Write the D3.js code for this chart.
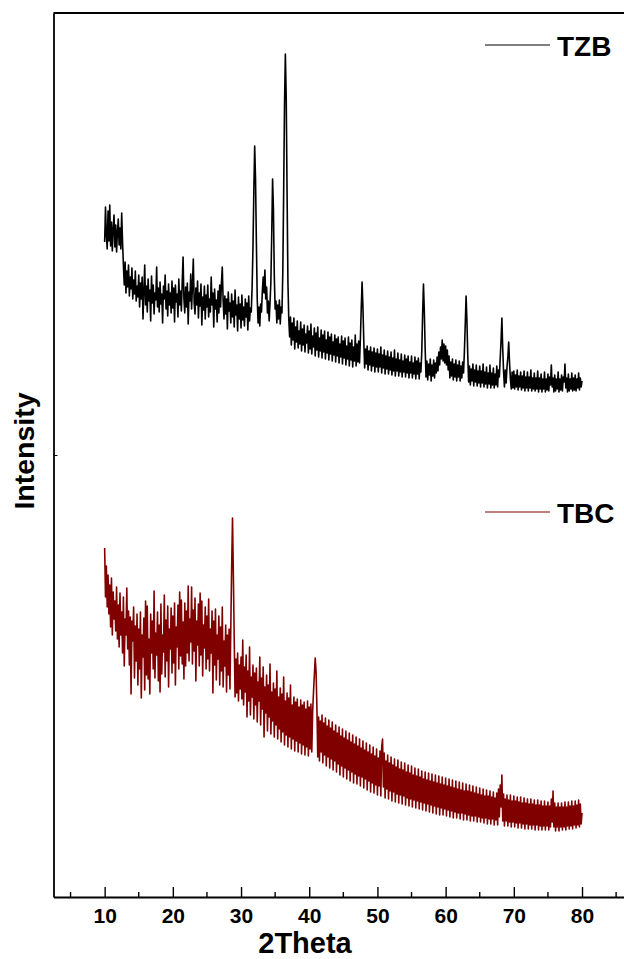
<!DOCTYPE html>
<html>
<head>
<meta charset="utf-8">
<script src="https://cdn.jsdelivr.net/npm/d3@7"></script>
<style>
  body { margin: 0; background: #fff; }
  text { font-family: "Liberation Sans", Arial, sans-serif; font-weight: bold; }
</style>
</head>
<body>
<svg id="chart" width="624" height="959"></svg>
<script>

// 2Theta grid of the scans : 10 -> 80, one value every 0.125 deg
const thetaStart = 10
const thetaStep = 0.125

// TZB scan (upper curve), intensity a.u. - 20 values per line = 2.5 deg
const tzb = [
  655, 690, 662, 648, 686, 656, 692, 651, 675, 646, 668, 682, 650, 672, 645, 665, 678, 652, 669, 648,
  684, 655, 632, 612, 635, 604, 626, 610, 632, 601, 620, 608, 629, 598, 617, 603, 626, 596, 611, 600,
  622, 590, 614, 598, 620, 578, 606, 632, 592, 611, 585, 618, 596, 607, 576, 621, 594, 612, 583, 604,
  597, 630, 590, 609, 585, 615, 593, 603, 574, 611, 598, 622, 588, 606, 581, 613, 592, 604, 584, 616,
  589, 609, 575, 612, 595, 603, 580, 618, 592, 606, 586, 615, 640, 598, 584, 610, 590, 614, 573, 605,
  596, 623, 588, 612, 638, 594, 583, 609, 592, 616, 579, 604, 591, 613, 572, 600, 587, 611, 578, 602,
  590, 612, 580, 598, 585, 620, 592, 604, 570, 608, 588, 597, 575, 606, 584, 612, 590, 614, 630, 596,
  578, 601, 583, 598, 568, 605, 586, 594, 574, 603, 580, 596, 570, 607, 582, 592, 566, 600, 578, 593,
  569, 602, 577, 590, 571, 598, 580, 594, 567, 601, 576, 589, 585, 610, 650, 705, 751, 718, 655, 598,
  574, 590, 571, 593, 585, 606, 620, 604, 627, 598, 610, 584, 596, 576, 594, 615, 662, 718, 688, 622,
  588, 596, 574, 592, 578, 597, 573, 590, 584, 625, 705, 792, 843, 800, 705, 615, 578, 560, 580, 552,
  574, 557, 579, 548, 570, 555, 576, 549, 566, 553, 575, 546, 568, 552, 572, 545, 563, 554, 571, 544,
  566, 548, 573, 543, 561, 550, 569, 541, 564, 547, 570, 540, 559, 546, 567, 539, 562, 545, 566, 538,
  557, 544, 565, 537, 560, 543, 563, 536, 555, 542, 562, 535, 558, 541, 560, 534, 553, 540, 561, 533,
  556, 539, 559, 532, 551, 538, 560, 531, 554, 537, 557, 530, 550, 536, 562, 531, 553, 535, 556, 534,
  558, 588, 615, 590, 556, 529, 548, 533, 551, 527, 546, 532, 550, 526, 545, 531, 549, 525, 544, 530,
  548, 525, 543, 530, 550, 524, 542, 529, 547, 523, 541, 528, 546, 523, 540, 527, 545, 522, 539, 526,
  547, 521, 538, 526, 544, 521, 537, 525, 543, 520, 536, 525, 542, 520, 538, 524, 541, 519, 535, 524,
  541, 519, 534, 523, 540, 518, 536, 523, 539, 518, 534, 525, 545, 582, 613, 586, 548, 520, 536, 517,
  533, 522, 538, 516, 532, 521, 537, 519, 534, 524, 540, 526, 545, 532, 550, 538, 557, 536, 553, 534,
  551, 532, 547, 527, 541, 519, 535, 521, 538, 517, 533, 520, 537, 516, 532, 520, 536, 516, 531, 519,
  535, 524, 545, 572, 601, 576, 541, 515, 531, 512, 528, 516, 533, 511, 527, 515, 532, 511, 526, 514,
  531, 510, 526, 514, 533, 510, 525, 513, 530, 509, 524, 513, 532, 509, 524, 512, 529, 509, 523, 512,
  531, 510, 527, 520, 538, 556, 579, 548, 525, 510, 527, 514, 530, 540, 555, 534, 518, 508, 525, 509,
  526, 508, 522, 510, 527, 507, 521, 510, 525, 507, 521, 509, 526, 506, 520, 509, 525, 506, 520, 509,
  527, 506, 519, 508, 524, 506, 519, 508, 526, 505, 519, 508, 523, 505, 518, 508, 525, 505, 518, 507,
  523, 506, 520, 512, 532, 510, 519, 505, 522, 506, 518, 508, 525, 505, 518, 507, 522, 506, 520, 515,
  533, 509, 519, 505, 523, 506, 518, 508, 524, 506, 519, 507, 522, 506, 518, 509, 524, 507, 519, 510,
  516
]

// TBC scan (lower curve), intensity a.u. - 20 values per line = 2.5 deg
const tbc = [
  349, 300, 331, 290, 322, 283, 312, 270, 319, 262, 305, 278, 296, 266, 310, 258, 292, 250, 304, 262,
  285, 244, 300, 231, 278, 262, 309, 248, 286, 232, 280, 203, 276, 256, 290, 219, 271, 236, 283, 212,
  268, 228, 285, 199, 262, 240, 279, 207, 296, 222, 291, 218, 258, 203, 283, 244, 276, 228, 306, 219,
  264, 242, 285, 216, 272, 205, 293, 223, 262, 245, 302, 220, 277, 236, 291, 210, 268, 248, 289, 224,
  281, 234, 294, 212, 270, 250, 292, 228, 305, 241, 297, 233, 275, 218, 294, 231, 286, 244, 311, 236,
  278, 255, 310, 233, 287, 246, 299, 216, 276, 252, 293, 231, 304, 242, 296, 221, 272, 249, 290, 228,
  281, 238, 298, 226, 268, 244, 286, 204, 276, 232, 288, 217, 262, 238, 281, 212, 270, 226, 290, 210,
  256, 231, 272, 205, 262, 222, 268, 208, 270, 330, 379, 322, 258, 200, 238, 204, 244, 196, 232, 208,
  240, 198, 257, 192, 230, 205, 242, 180, 226, 196, 250, 182, 220, 200, 232, 178, 224, 192, 229, 175,
  215, 196, 240, 172, 219, 188, 230, 160, 210, 184, 222, 166, 212, 180, 233, 163, 205, 176, 214, 160,
  208, 172, 226, 158, 200, 168, 209, 155, 203, 165, 220, 152, 196, 162, 204, 150, 199, 160, 212, 148,
  192, 158, 200, 146, 195, 156, 198, 145, 190, 154, 197, 143, 192, 152, 195, 142, 188, 150, 196, 141,
  190, 148, 193, 145, 185, 205, 222, 239, 226, 190, 140, 180, 136, 176, 145, 182, 134, 174, 142, 179,
  131, 171, 140, 177, 129, 169, 138, 175, 127, 166, 136, 172, 125, 164, 133, 170, 122, 161, 131, 168,
  120, 159, 129, 166, 118, 157, 127, 164, 116, 155, 125, 162, 114, 153, 123, 160, 113, 151, 121, 158,
  111, 149, 120, 156, 109, 147, 118, 154, 107, 145, 116, 152, 105, 143, 114, 150, 104, 141, 112, 148,
  102, 139, 111, 146, 101, 150, 158, 110, 144,  99, 136, 108, 142,  98, 134, 106, 140,  96, 132, 105,
  138,  95, 130, 103, 137,  94, 128, 102, 135,  93, 127, 101, 134,  92, 125,  99, 132,  91, 124,  98,
  131,  90, 122,  97, 129,  89, 121,  96, 128,  88, 120,  95, 126,  87, 118,  94, 125,  86, 117,  93,
  124,  85, 116,  92, 123,  84, 115,  91, 122,  83, 114,  90, 121,  82, 113,  89, 120,  82, 112,  88,
  119,  81, 111,  87, 118,  80, 110,  86, 117,  79, 109,  85, 116,  79, 108,  84, 115,  78, 107,  84,
  114,  77, 106,  83, 113,  77, 106,  82, 112,  76, 105,  81, 111,  76, 104,  81, 110,  75, 103,  80,
  109,  75, 102,  79, 108,  74, 101,  79, 107,  73, 101,  78, 106,  73, 100,  78, 105,  72,  99,  77,
  104,  72, 108,  80, 112,  90, 122,  76, 103,  71,  98,  76, 102,  71,  97,  75, 102,  70,  96,  75,
  101,  70,  96,  74, 100,  69,  95,  74, 100,  69,  94,  73,  99,  68,  94,  73,  98,  68,  93,  72,
   98,  68,  93,  72,  97,  67,  92,  72,  97,  67,  92,  71,  96,  67,  91,  71,  96,  67,  91,  71,
   95,  67,  91,  70,  98,  75, 106,  70,  94,  66,  90,  70,  94,  66,  90,  70,  94,  67,  90,  70,
   95,  67,  90,  71,  95,  68,  91,  71,  96,  68,  91,  72,  96,  69,  92,  72,  97,  70,  93,  73,
   84
]

const xMajorTicks = [10, 20, 30, 40, 50, 60, 70, 80]
const xMinorTicks = [5, 15, 25, 35, 45, 55, 65, 75, 85]
const yTicks = [442]

const series = [
  { name: "TZB", values: tzb, color: "#000000", legendY: 45 },
  { name: "TBC", values: tbc, color: "#800000", legendY: 512 }
]

const svg = d3.select("#chart")

const x = d3.scaleLinear()
            .domain([2.5, 86.2])
            .range([53.5, 624.3])

const y = d3.scaleLinear()
            .domain([0, 884])
            .range([897, 13])

// curves
const line = d3.line()
               .x((d, i) => x(thetaStart + i * thetaStep))
               .y(d => y(d))

series.forEach(s => {
  svg.append("path")
     .datum(s.values)
     .attr("d", line)
     .attr("fill", "none")
     .attr("stroke", s.color)
     .attr("stroke-width", 1.6)
     .attr("stroke-linejoin", "round")
})

// bottom axis, ticks pointing inward
const xAxisG = svg.append("g")
                  .attr("transform", "translate(0," + y(0) + ")")
                  .call(d3.axisBottom(x)
                          .tickValues(xMajorTicks)
                          .tickSizeInner(-10)
                          .tickSizeOuter(0)
                          .tickPadding(11))

xAxisG.select(".domain").attr("stroke-width", 1.8)
xAxisG.selectAll(".tick line").attr("stroke-width", 1.4)
xAxisG.selectAll("text")
      .attr("font-size", 21)
      .attr("fill", "#000")

xAxisG.selectAll(".minor")
      .data(xMinorTicks)
      .enter()
      .append("line")
      .attr("class", "minor")
      .attr("x1", d => x(d))
      .attr("x2", d => x(d))
      .attr("y1", 0)
      .attr("y2", -5)
      .attr("stroke", "#000")
      .attr("stroke-width", 1.4)

// left axis, no labels
const yAxisG = svg.append("g")
                  .attr("transform", "translate(" + x(2.5) + ",0)")
                  .call(d3.axisLeft(y)
                          .tickValues(yTicks)
                          .tickFormat("")
                          .tickSizeInner(-4)
                          .tickSizeOuter(0))

yAxisG.select(".domain").attr("stroke-width", 1.8)

// top frame line
svg.append("line")
   .attr("x1", x(2.5))
   .attr("x2", 624)
   .attr("y1", y(884))
   .attr("y2", y(884))
   .attr("stroke", "#000")
   .attr("stroke-width", 1.8)

// axis titles
svg.append("text")
   .attr("x", 305)
   .attr("y", 953)
   .attr("text-anchor", "middle")
   .attr("font-size", 29)
   .text("2Theta")

svg.append("text")
   .attr("transform", "translate(34,451) rotate(-90)")
   .attr("text-anchor", "middle")
   .attr("font-size", 28.5)
   .text("Intensity")

// legends
series.forEach(s => {
  svg.append("line")
     .attr("x1", 485)
     .attr("x2", 550)
     .attr("y1", s.legendY)
     .attr("y2", s.legendY)
     .attr("stroke", s.color)
     .attr("stroke-width", 1.2)

  svg.append("text")
     .attr("x", 557)
     .attr("y", s.legendY + 10.5)
     .attr("font-size", 28)
     .text(s.name)
})

</script>
</body>
</html>
